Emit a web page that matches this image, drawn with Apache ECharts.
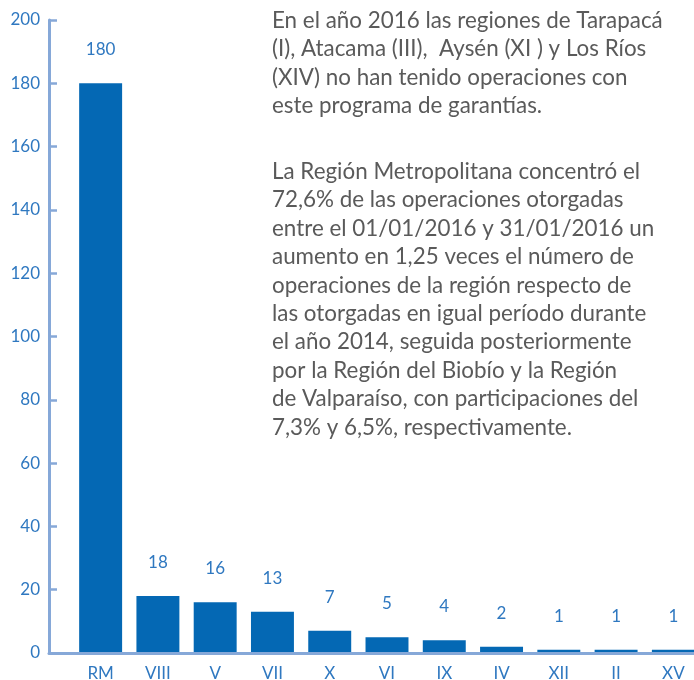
<!DOCTYPE html>
<html><head><meta charset="utf-8">
<script src="https://cdn.jsdelivr.net/npm/echarts@6/dist/echarts.min.js"></script>
<style>html,body{margin:0;padding:0;background:#fff}#c{width:694px;height:680px}</style>
</head><body><div id="c"></div>
<script>
const categories = ['RM','VIII','V','VII','X','VI','IX','IV','XII','II','XV'];
const values = [180,18,16,13,7,5,4,2,1,1,1];
const yMin = 0, yMax = 200, yStep = 20;
const para1 = ['En el año 2016 las regiones de Tarapacá','(I), Atacama (III),  Aysén (XI ) y Los Ríos','(XIV) no han tenido operaciones con','este programa de garantías.'];
const para2 = ['La Región Metropolitana concentró el','72,6% de las operaciones otorgadas','entre el 01/01/2016 y 31/01/2016 un','aumento en 1,25 veces el número de','operaciones de la región respecto de','las otorgadas en igual período durante','el año 2014, seguida posteriormente','por la Región del Biobío y la Región','de Valparaíso, con participaciones del','7,3% y 6,5%, respectivamente.'];

const FONT = 'Lato';
const BLUE_TXT = '#2f78c0';
const AXIS = '#86a8d8';
const chart = echarts.init(document.getElementById('c'), null, {renderer:'canvas'});
const textStyle = {fontFamily: FONT, fontSize: 22.4, fill: '#5a5a5a', lineHeight: 28.4};
chart.setOption({
  animation: false,
  grid: [
    {left: 49, right: 0, top: 20, bottom: 27, outerBoundsMode: 'none', containLabel: false},
    {left: 72, right: -8, top: 20, bottom: 27, outerBoundsMode: 'none', containLabel: false}
  ],
  xAxis: [
    {gridIndex: 0, type: 'value', min: 0, max: 1, z: 5,
     axisLine: {show: true, lineStyle: {color: AXIS, width: 3}},
     axisTick: {show: false}, axisLabel: {show: false}, splitLine: {show: false}},
    {gridIndex: 1, type: 'category', data: categories,
     axisLine: {show: false}, axisTick: {show: false}, splitLine: {show: false},
     axisLabel: {color: BLUE_TXT, fontFamily: FONT, fontSize: 17, margin: 12}}
  ],
  yAxis: [
    {gridIndex: 0, type: 'value', min: yMin, max: yMax, interval: yStep, z: 5,
     axisLine: {show: true, lineStyle: {color: AXIS, width: 3}},
     axisTick: {show: true, inside: true, length: 8, lineStyle: {color: AXIS, width: 2.5}},
     splitLine: {show: false},
     axisLabel: {color: BLUE_TXT, fontFamily: FONT, fontSize: 17, margin: 9}},
    {gridIndex: 1, type: 'value', min: yMin, max: yMax, show: false, splitLine: {show: false}}
  ],
  series: [{
    type: 'bar', xAxisIndex: 1, yAxisIndex: 1, data: values, barWidth: '75%',
    itemStyle: {color: '#0468b4'},
    label: {show: true, position: 'top', distance: 25, color: BLUE_TXT, fontFamily: FONT, fontSize: 17}
  }],
  graphic: [
    {type: 'text', left: 272, top: 6.5, style: Object.assign({text: para1.join('\n')}, textStyle)},
    {type: 'text', left: 272, top: 157.5, style: Object.assign({text: para2.join('\n')}, textStyle)}
  ]
});
</script></body></html>
